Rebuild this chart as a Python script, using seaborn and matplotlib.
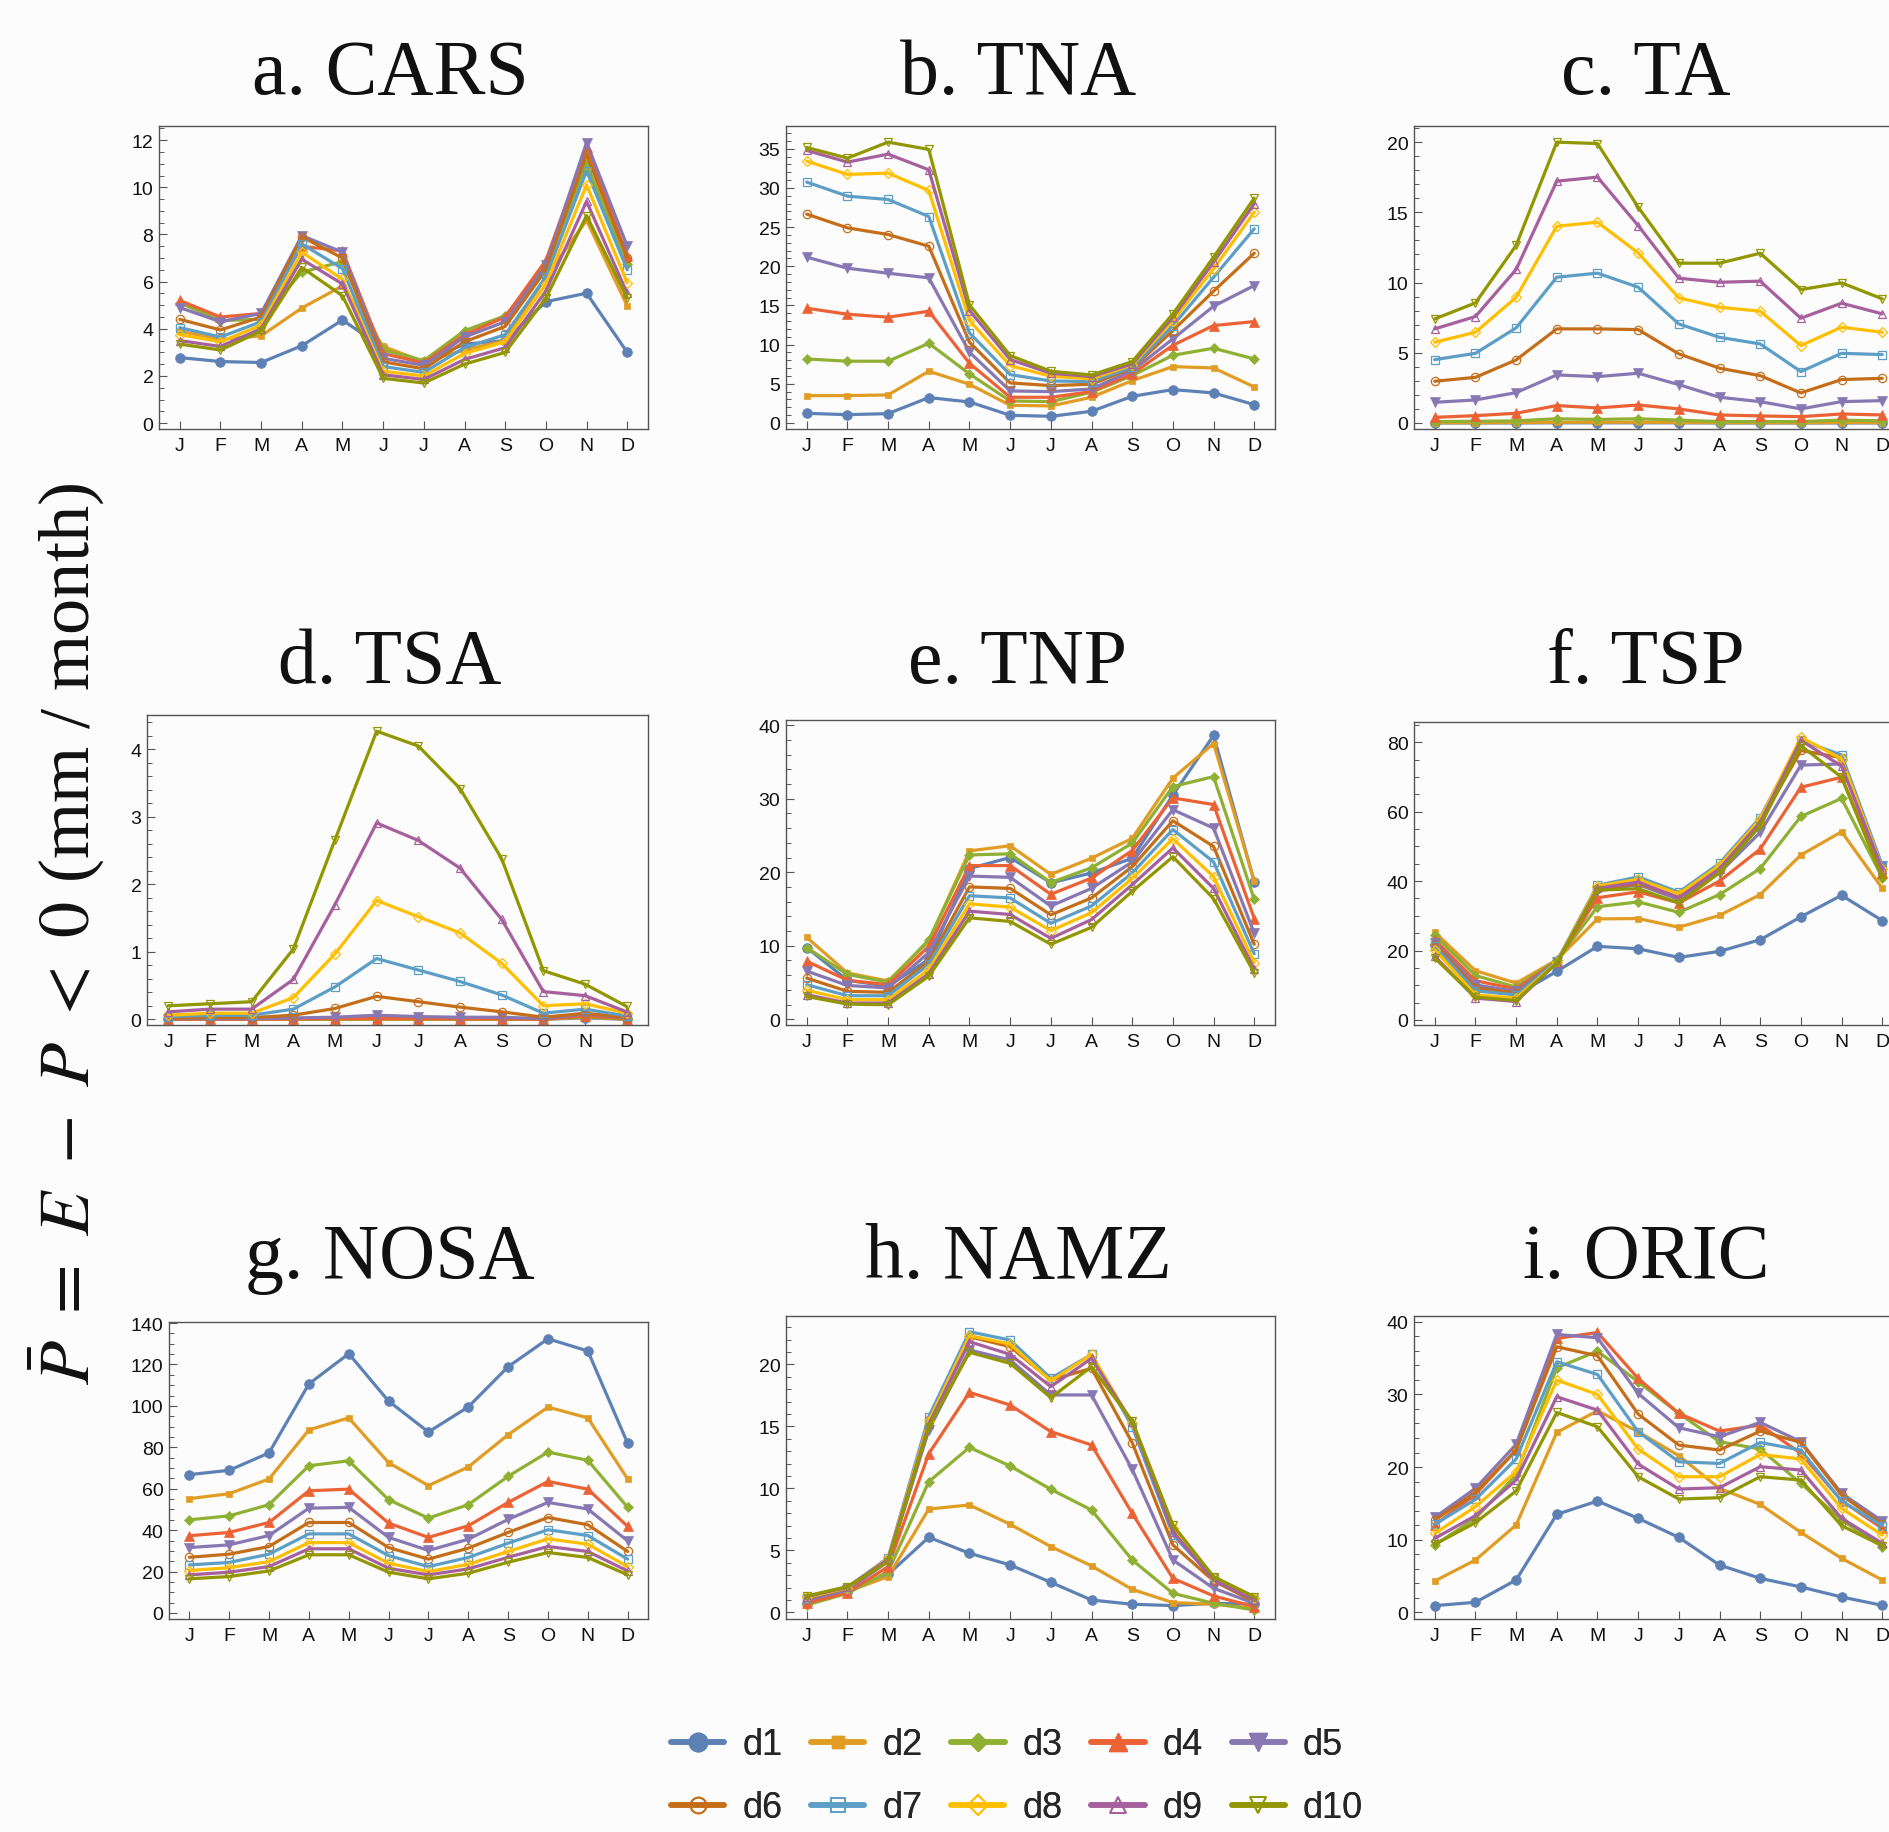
import numpy as np
import pandas as pd
import matplotlib
matplotlib.use("Agg")
import matplotlib.pyplot as plt
from matplotlib.lines import Line2D
from matplotlib.ticker import MultipleLocator
import seaborn as sns

MONTHS = ["J", "F", "M", "A", "M", "J", "J", "A", "S", "O", "N", "D"]
SERIES = ["d1", "d2", "d3", "d4", "d5", "d6", "d7", "d8", "d9", "d10"]
TITLES = ["a. CARS", "b. TNA", "c. TA", "d. TSA", "e. TNP", "f. TSP",
          "g. NOSA", "h. NAMZ", "i. ORIC"]

CARS = [
    [2.78, 2.61, 2.57, 3.28, 4.37, 3.2, 2.6, 3.35, 3.5, 5.15, 5.51, 3.0],
    [3.9, 3.55, 3.7, 4.88, 5.82, 3.25, 2.6, 3.1, 3.5, 6.2, 8.6, 4.97],
    [5.1, 4.35, 4.4, 6.4, 6.85, 3.1, 2.65, 3.92, 4.55, 6.6, 11.0, 6.75],
    [5.2, 4.5, 4.65, 7.5, 7.3, 2.95, 2.55, 3.75, 4.5, 6.9, 11.7, 7.1],
    [4.9, 4.3, 4.65, 7.95, 7.25, 2.75, 2.45, 3.65, 4.3, 6.7, 11.9, 7.5],
    [4.4, 3.95, 4.5, 7.9, 7.0, 2.6, 2.3, 3.45, 4.1, 6.5, 11.4, 7.0],
    [4.05, 3.65, 4.3, 7.6, 6.55, 2.4, 2.15, 3.2, 3.75, 6.2, 10.7, 6.5],
    [3.75, 3.45, 4.15, 7.25, 6.1, 2.2, 2.0, 2.95, 3.45, 5.9, 10.1, 5.95],
    [3.5, 3.25, 4.0, 6.95, 5.9, 2.05, 1.85, 2.7, 3.2, 5.6, 9.4, 5.5],
    [3.35, 3.1, 3.9, 6.6, 5.4, 1.9, 1.7, 2.5, 3.0, 5.3, 8.8, 5.3],
]
TNA = [
    [1.23, 1.06, 1.19, 3.24, 2.68, 0.98, 0.85, 1.49, 3.4, 4.26, 3.83, 2.34],
    [3.49, 3.49, 3.58, 6.6, 4.94, 2.26, 2.17, 3.28, 5.41, 7.19, 7.02, 4.6],
    [8.17, 7.88, 7.88, 10.17, 6.26, 2.81, 2.72, 3.92, 6.05, 8.64, 9.54, 8.17],
    [14.64, 13.88, 13.5, 14.26, 7.62, 3.28, 3.28, 4.0, 6.26, 9.92, 12.43, 12.94],
    [21.16, 19.75, 19.11, 18.52, 9.03, 4.09, 4.0, 4.34, 6.68, 10.73, 14.9, 17.54],
    [26.65, 24.9, 24.05, 22.56, 10.3, 5.11, 4.77, 4.94, 6.98, 11.79, 16.82, 21.67],
    [30.74, 28.95, 28.52, 26.35, 11.49, 6.17, 5.36, 5.28, 7.11, 12.43, 18.6, 24.78],
    [33.42, 31.72, 31.89, 29.67, 13.07, 7.32, 5.96, 5.62, 7.41, 13.07, 19.67, 26.9],
    [34.78, 33.29, 34.31, 32.31, 14.35, 8.09, 6.34, 5.92, 7.54, 13.5, 20.52, 27.97],
    [35.16, 33.8, 35.84, 34.91, 15.07, 8.6, 6.6, 6.13, 7.83, 13.92, 21.16, 28.69],
]
TA = [
    [0.0, 0.0, 0.0, 0.01, 0.01, 0.01, 0.01, 0.0, 0.0, 0.0, 0.0, 0.0],
    [0.02, 0.02, 0.03, 0.05, 0.05, 0.05, 0.04, 0.02, 0.02, 0.01, 0.03, 0.02],
    [0.1, 0.12, 0.15, 0.3, 0.25, 0.3, 0.2, 0.1, 0.1, 0.1, 0.2, 0.15],
    [0.4, 0.52, 0.69, 1.24, 1.07, 1.28, 1.0, 0.57, 0.5, 0.45, 0.64, 0.57],
    [1.47, 1.64, 2.16, 3.42, 3.3, 3.54, 2.73, 1.83, 1.52, 1.0, 1.52, 1.59],
    [2.97, 3.25, 4.49, 6.7, 6.7, 6.65, 4.92, 3.9, 3.37, 2.14, 3.09, 3.18],
    [4.51, 4.96, 6.77, 10.38, 10.67, 9.67, 7.05, 6.1, 5.63, 3.66, 4.96, 4.87],
    [5.75, 6.46, 8.95, 14.01, 14.3, 12.11, 8.91, 8.24, 7.96, 5.51, 6.82, 6.46],
    [6.7, 7.58, 10.93, 17.22, 17.51, 14.06, 10.31, 10.02, 10.1, 7.46, 8.53, 7.77],
    [7.41, 8.55, 12.64, 20.0, 19.9, 15.37, 11.38, 11.38, 12.09, 9.5, 9.98, 8.84],
]
TSA = [
    [0.0, 0.0, 0.0, 0.0, 0.0, 0.0, 0.0, 0.0, 0.0, 0.0, 0.02, 0.0],
    [0.0, 0.0, 0.0, 0.0, 0.0, 0.0, 0.0, 0.0, 0.0, 0.0, 0.03, 0.0],
    [0.0, 0.0, 0.0, 0.0, 0.0, 0.005, 0.005, 0.0, 0.0, 0.0, 0.04, 0.0],
    [0.0, 0.0, 0.0, 0.005, 0.01, 0.01, 0.01, 0.005, 0.005, 0.0, 0.05, 0.01],
    [0.01, 0.01, 0.01, 0.02, 0.03, 0.06, 0.04, 0.03, 0.03, 0.01, 0.08, 0.02],
    [0.015, 0.025, 0.025, 0.06, 0.16, 0.34, 0.26, 0.18, 0.11, 0.03, 0.09, 0.025],
    [0.04, 0.06, 0.06, 0.15, 0.48, 0.9, 0.73, 0.56, 0.36, 0.09, 0.15, 0.05],
    [0.06, 0.09, 0.09, 0.32, 0.97, 1.76, 1.52, 1.28, 0.83, 0.2, 0.23, 0.09],
    [0.11, 0.15, 0.15, 0.59, 1.7, 2.91, 2.65, 2.24, 1.48, 0.41, 0.35, 0.11],
    [0.2, 0.23, 0.26, 1.04, 2.66, 4.27, 4.05, 3.42, 2.38, 0.72, 0.52, 0.19],
]
TNP = [
    [9.76, 5.3, 4.5, 8.15, 20.5, 22.0, 18.55, 19.9, 21.9, 30.5, 38.6, 18.7],
    [11.13, 6.3, 5.2, 10.6, 22.9, 23.6, 19.7, 21.9, 24.6, 32.8, 37.5, 18.8],
    [9.76, 6.1, 5.04, 10.8, 22.35, 22.5, 18.6, 20.6, 23.95, 31.65, 33.0, 16.3],
    [7.9, 5.3, 4.7, 9.9, 20.9, 20.9, 17.0, 19.2, 22.95, 30.1, 29.2, 13.7],
    [6.55, 4.6, 4.26, 9.07, 19.47, 19.3, 15.4, 17.8, 21.4, 28.5, 26.0, 11.7],
    [5.6, 3.8, 3.66, 7.9, 18.0, 17.8, 14.2, 16.5, 20.75, 27.0, 23.5, 10.2],
    [4.7, 3.2, 3.2, 7.47, 16.8, 16.5, 13.05, 15.4, 19.9, 25.8, 21.4, 8.9],
    [3.94, 2.66, 2.66, 6.78, 15.7, 15.25, 12.05, 14.5, 19.15, 24.55, 19.4, 7.7],
    [3.34, 2.2, 2.2, 6.2, 14.7, 14.25, 11.0, 13.56, 18.3, 23.3, 17.8, 6.8],
    [3.1, 2.06, 1.97, 5.86, 13.8, 13.3, 10.2, 12.5, 17.4, 22.1, 16.4, 6.3],
]
TSP = [
    [21.5, 9.6, 7.2, 14.0, 21.2, 20.5, 18.0, 19.76, 23.1, 29.7, 35.9, 28.6],
    [25.25, 14.2, 10.6, 17.3, 29.1, 29.2, 26.7, 30.1, 36.1, 47.5, 54.2, 37.9],
    [24.4, 12.8, 9.45, 17.2, 32.6, 34.0, 31.0, 36.1, 43.6, 58.6, 63.8, 41.0],
    [23.1, 11.3, 8.9, 16.9, 35.2, 36.9, 33.7, 40.0, 49.2, 67.0, 69.9, 42.4],
    [22.2, 10.1, 8.2, 16.7, 37.1, 39.0, 34.7, 42.4, 54.0, 73.4, 73.7, 44.3],
    [21.7, 9.2, 7.7, 16.4, 37.6, 39.3, 35.4, 43.4, 56.9, 77.6, 75.5, 43.4],
    [21.2, 8.4, 7.2, 16.9, 38.8, 41.2, 36.8, 45.1, 58.3, 80.5, 76.3, 44.5],
    [20.2, 7.2, 6.3, 16.6, 38.6, 40.5, 36.3, 44.5, 57.8, 81.4, 75.2, 43.6],
    [18.3, 6.3, 5.3, 16.4, 37.9, 39.7, 35.2, 43.6, 56.9, 80.5, 73.1, 43.4],
    [17.8, 6.6, 5.6, 16.4, 37.4, 37.8, 33.7, 42.4, 55.9, 79.0, 69.9, 41.0],
]
NOSA = [
    [66.8, 68.9, 77.3, 110.6, 125.2, 102.3, 87.4, 99.5, 118.9, 132.4, 126.5, 81.9],
    [55.2, 57.6, 64.7, 88.4, 94.2, 72.6, 61.5, 70.5, 86.1, 99.4, 94.2, 64.7],
    [45.0, 46.9, 52.3, 71.1, 73.5, 54.7, 45.8, 52.3, 66.0, 77.7, 73.7, 51.0],
    [37.3, 38.9, 43.7, 59.0, 59.8, 43.4, 36.5, 42.1, 53.4, 63.5, 59.8, 41.8],
    [31.6, 32.9, 37.4, 50.6, 51.0, 36.5, 30.2, 35.6, 45.2, 53.4, 50.2, 34.8],
    [26.9, 28.4, 32.1, 43.7, 43.7, 31.6, 26.0, 31.3, 38.9, 46.1, 42.6, 29.7],
    [23.2, 24.4, 28.4, 38.2, 38.2, 27.7, 22.4, 26.8, 33.7, 40.2, 37.4, 26.0],
    [20.5, 21.9, 24.8, 34.0, 34.0, 24.0, 20.0, 23.5, 29.7, 35.8, 33.2, 22.4],
    [18.4, 19.7, 22.4, 31.0, 31.0, 21.6, 18.4, 21.3, 26.9, 32.1, 29.7, 20.3],
    [16.5, 17.6, 20.3, 28.1, 28.1, 19.7, 16.5, 19.2, 24.5, 29.2, 26.8, 18.4],
]
NAMZ = [
    [0.73, 1.67, 3.06, 6.05, 4.76, 3.82, 2.42, 0.99, 0.65, 0.54, 0.73, 0.65],
    [0.86, 1.67, 2.88, 8.33, 8.66, 7.1, 5.3, 3.74, 1.85, 0.78, 0.65, 0.32],
    [0.59, 1.53, 3.28, 10.54, 13.3, 11.8, 9.92, 8.25, 4.22, 1.53, 0.73, 0.19],
    [0.73, 1.59, 3.68, 12.8, 17.74, 16.72, 14.57, 13.5, 7.98, 2.74, 1.32, 0.46],
    [0.99, 1.8, 4.09, 14.7, 21.16, 20.35, 17.53, 17.53, 11.53, 4.22, 1.94, 0.73],
    [1.13, 1.94, 4.22, 15.5, 22.23, 21.42, 18.74, 19.68, 13.68, 5.43, 2.53, 0.86],
    [1.18, 1.99, 4.41, 15.78, 22.63, 21.96, 18.87, 20.8, 14.97, 6.24, 2.74, 0.99],
    [1.21, 1.99, 4.35, 15.43, 22.31, 21.64, 18.66, 20.8, 15.24, 6.77, 2.74, 1.13],
    [1.26, 2.04, 4.27, 15.16, 21.83, 20.8, 18.2, 20.48, 15.32, 6.5, 2.6, 0.99],
    [1.32, 2.07, 4.09, 14.97, 20.97, 20.08, 17.31, 19.81, 15.43, 7.04, 2.88, 1.26],
]
ORIC = [
    [0.92, 1.38, 4.45, 13.49, 15.32, 12.94, 10.32, 6.51, 4.68, 3.49, 2.11, 0.96],
    [4.31, 7.2, 12.02, 24.77, 27.75, 24.86, 21.56, 17.06, 14.86, 11.0, 7.43, 4.45],
    [9.27, 12.94, 18.9, 33.67, 35.96, 31.74, 27.39, 23.49, 22.48, 17.75, 12.71, 9.04],
    [12.02, 16.24, 22.34, 37.71, 38.53, 32.2, 27.39, 24.95, 25.78, 21.88, 15.37, 11.56],
    [13.07, 17.06, 23.12, 38.26, 37.8, 30.14, 25.41, 24.17, 26.15, 23.49, 16.38, 12.57],
    [12.71, 16.51, 22.34, 36.56, 35.32, 27.29, 23.03, 22.34, 24.95, 23.39, 16.15, 12.11],
    [12.11, 15.55, 21.1, 34.5, 32.75, 24.86, 20.73, 20.5, 23.39, 22.34, 15.32, 11.93],
    [10.87, 14.54, 19.36, 31.97, 30.0, 22.48, 18.67, 18.67, 21.74, 21.1, 14.31, 10.64],
    [10.18, 13.3, 18.21, 29.68, 27.84, 20.41, 16.97, 17.16, 20.05, 19.59, 12.94, 9.5],
    [9.36, 12.34, 16.7, 27.52, 25.55, 18.67, 15.6, 15.78, 18.67, 18.21, 11.93, 9.17],
]

COLORS = ["#5E81B5", "#E19C24", "#8FB032", "#EB6235", "#8778B3",
          "#C56E1A", "#5D9EC7", "#FFBF00", "#A5609D", "#929600"]
MARKERS = ["o", "s", "D", "^", "v", "o", "s", "D", "^", "v"]
FILLED = [True] * 5 + [False] * 5
MSIZE = [7, 4.5, 5, 6.5, 6.5, 6, 5.5, 5.5, 6, 6]

sns.set_theme(style="ticks")
plt.rcParams["font.family"] = ["Liberation Sans", "DejaVu Sans"]
plt.rcParams["mathtext.fontset"] = "stix"

W, H = 1890, 1833
BG = "#fcfcfc"
fig = plt.figure(figsize=(W / 100, H / 100), dpi=100, facecolor=BG)

# (data, x0, x1, y0, y1, ylim, major, minor) in pixels from top-left
PANELS = [
    (CARS, 159, 648, 127, 430, (-0.25, 12.6), 2, 0.5),
    (TNA, 786, 1275, 127, 430, (-0.77, 37.9), 5, 1),
    (TA, 1414, 1903, 127, 430, (-0.43, 21.15), 5, 1),
    (TSA, 147, 648, 716, 1026, (-0.085, 4.51), 1, 0.2),
    (TNP, 786, 1275, 721, 1026, (-0.78, 40.7), 10, 2),
    (TSP, 1414, 1903, 723, 1026, (-1.45, 85.8), 20, 5),
    (NOSA, 169, 648, 1323, 1620, (-2.9, 140.5), 20, 5),
    (NAMZ, 786, 1275, 1317, 1620, (-0.54, 23.9), 5, 1),
    (ORIC, 1414, 1903, 1317, 1620, (-0.92, 40.8), 10, 2),
]
TITLE_X = [390, 1018, 1646]
TITLE_Y = [94, 683, 1278]

FRAME = "#555555"
xs = np.arange(12)

for k, (data, x0, x1, y0, y1, ylim, major, minor) in enumerate(PANELS):
    ax = fig.add_axes([x0 / W, 1 - y1 / H, (x1 - x0) / W, (y1 - y0) / H])
    ax.set_facecolor(BG)
    for i, vals in enumerate(data):
        df = pd.DataFrame({"month": xs, "value": vals})
        c = COLORS[i]
        sns.lineplot(data=df, x="month", y="value", ax=ax, color=c,
                     linewidth=2.3, marker=MARKERS[i], markersize=MSIZE[i],
                     markerfacecolor=c if FILLED[i] else "none",
                     markeredgecolor=c,
                     markeredgewidth=0.5 if FILLED[i] else 0.9,
                     legend=False, errorbar=None, sort=False)
    ax.set_xlim(-0.51, 11.51)
    ax.set_ylim(*ylim)
    ax.set_xticks(xs)
    ax.set_xticklabels(MONTHS)
    ax.yaxis.set_major_locator(MultipleLocator(major))
    ax.yaxis.set_minor_locator(MultipleLocator(minor))
    ax.set_xlabel("")
    ax.set_ylabel("")
    for sp in ax.spines.values():
        sp.set_color(FRAME)
        sp.set_linewidth(1.0)
        sp.set_visible(True)
    ax.tick_params(axis="both", which="major", direction="in", length=6,
                   width=0.8, color=FRAME, labelsize=14, labelcolor="#111111",
                   top=False, right=False)
    ax.tick_params(axis="y", which="major", pad=4)
    ax.tick_params(axis="x", which="major", pad=6)
    ax.tick_params(axis="y", which="minor", direction="in", length=3.5,
                   width=0.7, color=FRAME, right=False)
    ax.grid(False)
    fig.text(TITLE_X[k % 3] / W, 1 - TITLE_Y[k // 3] / H, TITLES[k],
             ha="center", va="baseline", fontsize=56,
             family=["Liberation Serif", "DejaVu Serif"], color="#111111")

fig.text(66 / W, 1 - 934 / H, r"$\bar{P}\ =\ E\ -\ P\ <\ 0$ (mm / month)",
         rotation=90, ha="center", va="center", fontsize=52,
         family=["Liberation Serif", "DejaVu Serif"], color="#111111")

handles = []
for i in range(10):
    c = COLORS[i]
    handles.append(Line2D([0], [0], color=c, linewidth=4,
                          marker=MARKERS[i], markersize=MSIZE[i] * 1.9,
                          markerfacecolor=c if FILLED[i] else "none",
                          markeredgecolor=c,
                          markeredgewidth=1.0 if FILLED[i] else 1.3))

for row, yc in enumerate([1746, 1809]):
    leg = fig.legend(handles[row * 5:(row + 1) * 5], SERIES[row * 5:(row + 1) * 5],
                     ncol=5, loc="center left",
                     bbox_to_anchor=(671 / W, 1 - yc / H),
                     frameon=False, fontsize=26, handlelength=1.47,
                     handletextpad=0.5, columnspacing=0.8, borderpad=0,
                     borderaxespad=0)
    fig.add_artist(leg)

fig.savefig("out.png", dpi=100, facecolor=BG)
